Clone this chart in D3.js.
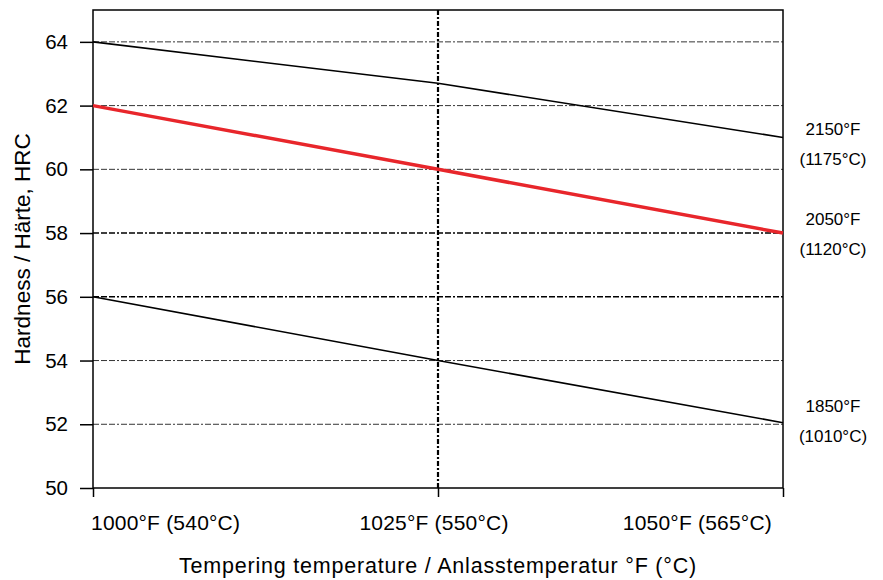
<!DOCTYPE html>
<html lang="en">
<head>
    <meta charset="UTF-8">
    <title>Hardness vs tempering temperature</title>
    <style>
        * { margin: 0; padding: 0 }
        body { background: #fff; }
        svg text { font-family: "Liberation Sans", Arial, sans-serif; fill: #000; }
    </style>
</head>
<body>
    <div id="main"></div>
    <script src="https://d3js.org/d3.v7.min.js"></script>
    <script>
        // tempering temperatures (°F) and their labels
        const temps = [1000, 1025, 1050];
        const tempLabels = ['1000°F (540°C)', '1025°F (550°C)', '1050°F (565°C)'];
        const yTicks = [50, 52, 54, 56, 58, 60, 62, 64];
        const gridTicks = [52, 54, 56, 58, 60, 62, 64];

        // hardness, one array per hardening temperature
        const hrc2150 = [64, 62.7, 61.0];
        const hrc2050 = [62, 60, 58];
        const hrc1850 = [56, 54, 52.05];
        const seriesNames = [['2150°F', '(1175°C)'], ['2050°F', '(1120°C)'], ['1850°F', '(1010°C)']];

        const W = 883, H = 580;
        const m = { left: 93, right: 100, top: 10, bottom: 92 };

        const svg = d3.select('#main').append('svg')
            .attr('width', W)
            .attr('height', H);

        const x = d3.scaleLinear().domain([1000, 1050]).range([m.left, W - m.right]);
        const y = d3.scaleLinear().domain([50, 65]).range([H - m.bottom, m.top]);

        // horizontal dash-dot grid
        svg.append('g').selectAll('line')
            .data(gridTicks)
            .enter().append('line')
            .attr('x1', x(1000)).attr('x2', x(1050))
            .attr('y1', d => y(d)).attr('y2', d => y(d))
            .style('stroke', '#000')
            .style('stroke-width', d => (d == 58 || d == 56) ? 1.4 : 0.8)
            .style('stroke-dasharray', '6,2,6,2,6,2,2,2');

        // vertical marker at 1025
        svg.append('line')
            .attr('x1', x(1025)).attr('x2', x(1025))
            .attr('y1', y(65)).attr('y2', y(50))
            .style('stroke', '#000')
            .style('stroke-width', 2.2)
            .style('stroke-dasharray', '5,2,2,2');

        // frame
        svg.append('rect')
            .attr('x', x(1000)).attr('y', y(65))
            .attr('width', x(1050) - x(1000)).attr('height', y(50) - y(65))
            .style('fill', 'none').style('stroke', '#000').style('stroke-width', 1.5);

        // axes
        const yAxis = svg.append('g')
            .attr('transform', `translate(${x(1000)},0)`)
            .call(d3.axisLeft(y).tickValues(yTicks).tickSize(13).tickPadding(12).tickFormat(d3.format('d')));
        yAxis.select('.domain').remove();
        yAxis.selectAll('line').style('stroke', '#000').style('stroke-width', 1.5);
        yAxis.selectAll('text').style('font-size', '20.5px');

        const xAxis = svg.append('g')
            .attr('transform', `translate(0,${y(50)})`)
            .call(d3.axisBottom(x).tickValues(temps).tickSize(9).tickFormat(''));
        xAxis.select('.domain').remove();
        xAxis.selectAll('line').style('stroke', '#000').style('stroke-width', 1.5);

        // category labels: first starts at axis, middle centred, last ends inside
        const anchors = ['start', 'middle', 'end'];
        const shifts = [-2, -4, -11];
        svg.append('g').selectAll('text')
            .data(temps)
            .enter().append('text')
            .attr('x', (d, i) => x(d) + shifts[i])
            .attr('y', y(50) + 42)
            .attr('text-anchor', (d, i) => anchors[i])
            .style('font-size', '21px')
            .style('letter-spacing', '0.2px')
            .text((d, i) => tempLabels[i]);

        // series lines
        const line = d3.line()
            .x((d, i) => x(temps[i]))
            .y(d => y(d));
        const series = [hrc2150, hrc2050, hrc1850];
        const colors = ['#000', '#e8262b', '#000'];
        const widths = [1.6, 3.5, 1.6];
        svg.selectAll('path.series')
            .data(series)
            .enter().append('path')
            .classed('series', true)
            .attr('d', d => line(d))
            .style('fill', 'none')
            .style('stroke', (d, i) => colors[i])
            .style('stroke-width', (d, i) => widths[i]);

        // right side labels (baselines)
        const labelY = [[135, 165], [225, 255], [412, 442]];
        seriesNames.forEach((nm, i) => {
            nm.forEach((t, j) => {
                svg.append('text')
                    .attr('x', 833)
                    .attr('y', labelY[i][j])
                    .attr('text-anchor', 'middle')
                    .style('font-size', '17px')
                    .text(t);
            });
        });

        // axis titles
        svg.append('text')
            .attr('transform', `translate(30,${(y(50) + y(65)) / 2}) rotate(-90)`)
            .attr('text-anchor', 'middle')
            .style('font-size', '22.5px')
            .text('Hardness / Härte, HRC');

        svg.append('text')
            .attr('x', 438)
            .attr('y', 573)
            .attr('text-anchor', 'middle')
            .style('font-size', '21.5px')
            .style('letter-spacing', '0.8px')
            .text('Tempering temperature / Anlasstemperatur °F (°C)');
    </script>
</body>
</html>
